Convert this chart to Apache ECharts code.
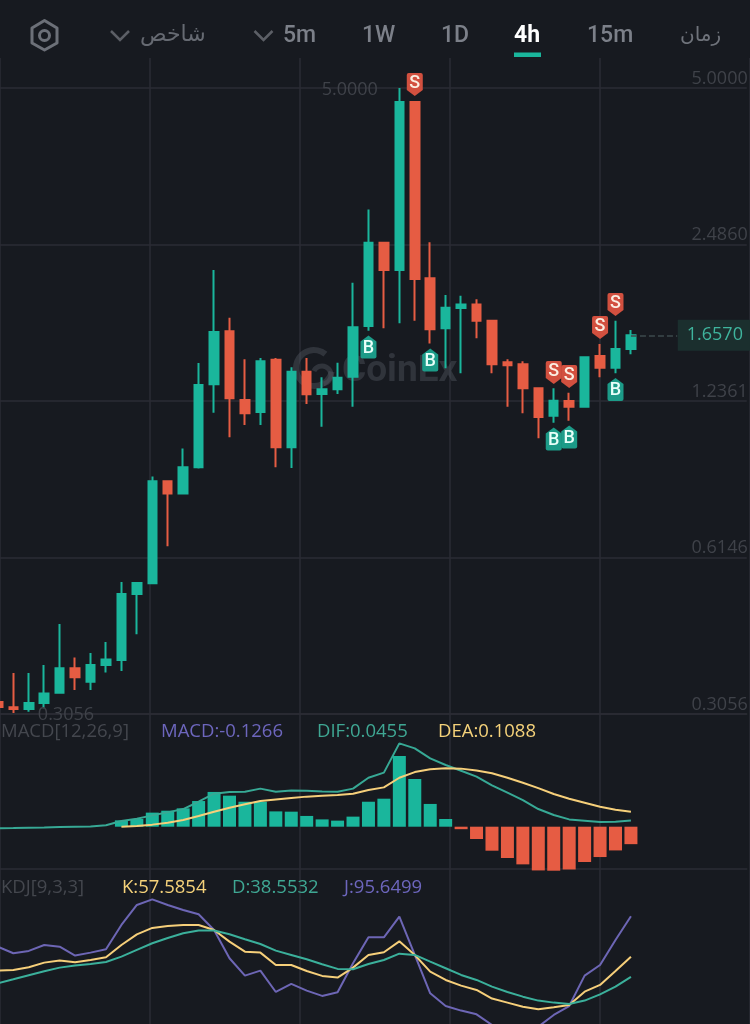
<!DOCTYPE html>
<html>
<head>
<meta charset="utf-8">
<style>html,body{margin:0;padding:0;background:#171a20}#c{width:750px;height:1024px}</style>
<script src="https://cdn.jsdelivr.net/npm/echarts@6/dist/echarts.min.js"></script>
</head>
<body>
<div id="c"></div>
<script>
// ---- data ----
const opens  = [.3224,.3150,.3125,.3210,.3361,.3748,.3530,.3803,.3889,.5222,.5480,.8640,.8179,.9198,1.3318,1.6874,1.2416,1.1769,1.4864,1.0056,1.4087,1.2754,1.3024,1.3779,1.7278,2.5049,2.2185,4.697,2.1379,1.7103,1.8721,1.9023,1.7692,1.4690,1.4563,1.3082,1.1576,1.2361,1.2051,1.5111,1.4343,1.5591];
const closes = [.3153,.3125,.3210,.3350,.3748,.3600,.3803,.3896,.5222,.5485,.8640,.8179,.9198,1.3276,1.6821,1.2511,1.1701,1.4759,1.0056,1.4087,1.2737,1.3024,1.3716,1.7177,2.5049,2.2185,4.697,2.1312,1.7027,1.8747,1.9023,1.7692,1.4563,1.4500,1.3082,1.1509,1.2377,1.2051,1.5022,1.4343,1.5591,1.6570];
const lows   = [.3139,.3070,.3087,.3137,.3361,.3401,.3401,.3680,.3703,.4362,.5480,.6464,.8179,.9144,1.1732,1.0512,1.1107,1.1107,.9197,.9163,1.2197,1.1024,1.2754,1.2051,1.6919,1.7103,1.7485,1.7692,1.5988,1.4302,1.3987,1.6354,1.3987,1.2051,1.1701,1.0464,1.1220,1.1320,1.2051,1.3742,1.3987,1.5229];
const highs  = [.3224,.3670,.3670,.3803,.4567,.3935,.4013,.4215,.5509,.5509,.8824,.8640,.9997,1.4647,2.2185,1.7934,1.4890,1.4977,1.4977,1.4370,1.4977,1.3742,1.4668,2.0963,2.9065,2.5049,5.0000,4.718,2.5116,1.9842,1.9778,1.9463,1.7692,1.4890,1.4759,1.3082,1.3082,1.2828,1.5022,1.5945,1.7692,1.6972];
const slotNames = ['0','1','2','3','4','5','6','7','8','9','10','11','12','13','14','15','16','17','18','19','20','21','22','23','24','25','26','27','28','29','30','31','32','33','34','35','36','37','38','39','40','41','42','43','44','45','46','47','48'];
const priceTicks = ['0.3056','0.6146','1.2361','2.4860','5.0000'];
const minPrice = 0.3056, maxPrice = 5.0, lastPrice = 1.6570;
const sellSlots  = [27,36,37,39,40];
const sellPrices = [5.079,1.4039,1.3790,1.7162,1.9017];
const buySlots   = [24,28,36,37,40];
const buyPrices  = [1.5731,1.4844,1.0431,1.0524,1.3012];
const macdSlots  = [8,9,10,11,12,13,14,15,16,17,18,19,20,21,22,23,24,25,26,27,28,29,30,31,32,33,34,35,36,37,38,39,40,41];
const macdBars   = [.046,.056,.102,.116,.133,.186,.252,.225,.181,.181,.111,.109,.078,.053,.044,.073,.181,.203,.513,.346,.165,.056,-.018,-.089,-.174,-.227,-.273,-.317,-.319,-.310,-.256,-.220,-.172,-.1266];
const dif = [-.012,-.010,-.007,-.005,-.002,0,.002,.010,.041,.058,.082,.104,.128,.181,.239,.251,.254,.276,.254,.263,.261,.256,.254,.276,.355,.392,.604,.568,.495,.447,.406,.363,.300,.247,.193,.128,.085,.053,.044,.034,.036,.0455];
const dea = [null,null,null,null,null,null,null,null,0,.005,.015,.029,.048,.077,.109,.138,.162,.186,.198,.208,.218,.225,.230,.239,.266,.285,.355,.396,.416,.423,.421,.408,.387,.355,.319,.280,.237,.203,.174,.145,.123,.1088];
const kLine = [44.5,45.1,47.6,52.0,53.9,52.3,54.5,57.0,68.6,78.6,84.6,86.4,87.4,87.4,82.7,71.7,62.3,61.4,49.8,49.8,44.1,39.5,37.9,47.3,59.2,61.7,72.0,59.2,43.5,35.7,30.4,26.3,18.2,14.4,10.6,8.1,10.0,12.2,24.7,31.0,44.1,57.5854];
const dLine = [32.6,36.3,40.1,43.8,47.3,49.2,50.7,52.6,57.6,63.9,70.2,75.2,79.6,82.1,82.1,78.6,73.9,69.5,63.3,59.2,55.1,50.4,46.1,45.7,50.7,54.5,60.4,59.2,52.9,46.7,40.4,35.7,29.4,24.4,20.0,16.3,14.4,13.1,16.3,22.2,29.4,38.5532];
const jLine = [67.0,60.8,63.0,68.6,67.0,58.6,61.4,64.5,87.4,106.2,111.5,106.2,101.5,97.4,82.7,56.1,39.8,44.5,24.4,32.0,25.7,20.7,24.1,51.4,75.8,75.8,95.2,59.2,23.2,11.2,6.9,3.4,-6.6,-14.4,-17.6,-8.2,2.8,11.2,39.8,49.8,73.3,95.6499];
const tabs = ['5m','1W','1D','4h','15m','زمان','شاخص'];
// ---- styles ----
const BG='#171a20', GRID='#2b2d34', UP='#1ab69c', DOWN='#e65c43', TICK='#3f4249';
const UI='Roboto, "DejaVu Sans", sans-serif';
const NUM='"Open Sans", Roboto, sans-serif';
// the price pane is a logarithmic scale with one step per tick label
const step = p => Math.log(p/minPrice)/Math.log(maxPrice/minPrice)*(priceTicks.length-1);
const candleData = opens.map((o,i)=>[step(o),step(closes[i]),step(lows[i]),step(highs[i])]);
const SELL='path://M2 0H14Q16 0 16 2V17L8 23L0 17V2Q0 0 2 0Z';
const BUY='path://M8 0L16 6V21Q16 23 14 23H2Q0 23 0 21V6Z';
const sign=(name,slot,price,sym,col,txt,dy)=>({name,coord:[slot,step(price)],symbol:sym,symbolSize:[16,23],
  itemStyle:{color:col},label:{show:true,position:'inside',offset:[0,dy],formatter:'{b}',color:txt,fontFamily:UI,fontSize:18,fontWeight:500}});
const note=(slot,price,pos,dist,text,dy)=>({name:text,coord:[slot,step(price)],symbol:'circle',symbolSize:1,itemStyle:{color:'transparent'},
  label:{show:true,position:pos,distance:dist,offset:[0,dy],formatter:'{b}',color:TICK,fontFamily:NUM,fontSize:18}});
const points=[
  ...sellSlots.map((s,i)=>sign('S',s,sellPrices[i],SELL,'#d2503f','#fbeee2',-1)),
  ...buySlots.map((s,i)=>sign('B',s,buyPrices[i],BUY,'#1c9b88','#e8fff9',1)),
  note(26,maxPrice,'left',21,priceTicks[4],2),
  note(1,minPrice,'right',24,priceTicks[0],1),
  {name:lastPrice.toFixed(4),coord:[44,step(lastPrice)],symbol:'circle',symbolSize:1,itemStyle:{color:'transparent'},
   label:{show:true,position:'right',distance:0,formatter:'{b}',color:'#3fb49d',fontFamily:NUM,fontSize:18,backgroundColor:'#1b2f2e',padding:[6,9,6,9],lineHeight:19}}
];
const catAxis=(g,extra)=>Object.assign({type:'category',gridIndex:g,data:slotNames,boundaryGap:true,
  axisTick:{show:false},axisLabel:{show:false},splitLine:{show:false},axisLine:{show:false}},extra||{});
const lineS=(data,color,x,y)=>({type:'line',xAxisIndex:x,yAxisIndex:y,data,symbol:'none',smooth:false,lineStyle:{color,width:2},silent:true,connectNulls:false,z:3});
const txt=(x,y,text,fill,size,weight,align,font)=>({type:'text',z:5,silent:true,style:{x,y,text,fill,fontFamily:font||UI,fontSize:size,fontWeight:weight||400,align:align||'left',verticalAlign:'middle'}});

const chart=echarts.init(document.getElementById('c'),null,{renderer:'canvas'});
const left=-9.82, width=756.56;
chart.setOption({
  animation:false,
  backgroundColor:BG,
  grid:[
    {left,width,top:58,height:656,outerBoundsMode:'none'},
    {left,width,top:714,height:158,outerBoundsMode:'none'},
    {left,width,top:869,height:155,outerBoundsMode:'none'},
    {left:0,right:0,top:58,bottom:0,outerBoundsMode:'none'}
  ],
  xAxis:[
    catAxis(0,{axisLine:{show:true,onZero:false,lineStyle:{color:GRID,width:1.5}}}),
    catAxis(1),
    catAxis(2,{position:'top',axisLine:{show:true,onZero:false,lineStyle:{color:GRID,width:1.5}}}),
    {type:'value',gridIndex:3,min:0,max:750,interval:150,axisLine:{show:false},axisTick:{show:false},axisLabel:{show:false},
     splitLine:{show:true,lineStyle:{color:GRID,width:1.5}}}
  ],
  yAxis:[
    {type:'value',gridIndex:0,position:'right',min:0,max:4+30/156.5,interval:1,
     axisLine:{show:false},axisTick:{show:false},
     splitLine:{show:true,showMaxLine:false,lineStyle:{color:GRID,width:1.5}},
     axisLabel:{show:true,inside:true,margin:-1,showMaxLabel:false,showMinLabel:true,color:TICK,fontFamily:NUM,fontSize:18,verticalAlign:'bottom',lineHeight:19,
       formatter:v=>priceTicks[v]||''}},
    {type:'value',gridIndex:1,min:-.3284,max:.817,show:false,splitLine:{show:false}},
    {type:'value',gridIndex:2,min:-5.7,max:140,show:false,splitLine:{show:false}},
    {type:'value',gridIndex:3,min:0,max:1,show:false,splitLine:{show:false}}
  ],
  series:[
    {type:'candlestick',xAxisIndex:0,yAxisIndex:0,data:candleData,barWidth:9,silent:true,z:2,
     itemStyle:{color:UP,color0:DOWN,borderColor:UP,borderColor0:DOWN,borderWidth:2},
     markPoint:{silent:true,animation:false,z:6,data:points},
     markLine:{silent:true,animation:false,symbol:'none',label:{show:false},
       lineStyle:{color:'#3d4a4c',type:'dashed',width:1.5},
       data:[[{coord:[41,step(lastPrice)]},{coord:[44,step(lastPrice)]}]]}},
    {type:'bar',xAxisIndex:1,yAxisIndex:1,barWidth:13,silent:true,z:2,
     data:macdSlots.map((s,i)=>({value:[s,macdBars[i]],itemStyle:{color:macdBars[i]>=0?UP:DOWN}}))},
    lineS(dif,'#37a995',1,1),
    lineS(dea,'#f6cf7a',1,1),
    lineS(jLine,'#6d66b5',2,2),
    lineS(kLine,'#f6cf7a',2,2),
    lineS(dLine,'#3bb09b',2,2)
  ],
  graphic:[
    // watermark
    {type:'text',z:1,silent:true,style:{x:342,y:372,text:'CoinEx',fill:'rgba(90,95,105,0.38)',fontFamily:UI,fontSize:37,fontWeight:700,verticalAlign:'middle'}},
    {type:'arc',z:1,silent:true,shape:{cx:314,cy:368,r:18,startAngle:0.2,endAngle:5.4},style:{stroke:'rgba(90,95,105,0.38)',lineWidth:6,fill:null}},
    {type:'arc',z:1,silent:true,shape:{cx:322,cy:375,r:9,startAngle:3.6,endAngle:1.4},style:{stroke:'rgba(90,95,105,0.38)',lineWidth:5,fill:null}},
    // tab bar
    {type:'polygon',z:5,silent:true,shape:{points:[[44.5,20.5],[57,28],[57,43],[44.5,50],[32,43],[32,28]]},style:{stroke:'#6c7078',lineWidth:3,fill:null,lineJoin:'round'}},
    {type:'circle',z:5,silent:true,shape:{cx:44.5,cy:35.5,r:5},style:{stroke:'#6c7078',lineWidth:3,fill:null}},
    {type:'polyline',z:5,silent:true,shape:{points:[[111,31],[120,40],[129,31]]},style:{stroke:'#5c5f66',lineWidth:2.5,fill:null}},
    {type:'polyline',z:5,silent:true,shape:{points:[[254.5,31],[263.5,40],[272.5,31]]},style:{stroke:'#5c5f66',lineWidth:2.5,fill:null}},
    txt(140,35.5,tabs[6],'#666a72',22,400),
    txt(283,36.5,tabs[0],'#7c8089',23,500),
    txt(362,36.5,tabs[1],'#7c8089',23,500),
    txt(441,36.5,tabs[2],'#7c8089',23,500),
    txt(514,36.5,tabs[3],'#ffffff',23,700),
    txt(587,36.5,tabs[4],'#7c8089',23,500),
    txt(680,36,tabs[5],'#6f737b',20,400),
    {type:'rect',z:5,silent:true,shape:{x:514,y:52.5,width:27,height:4.5},style:{fill:UP}},
    // indicator captions
    txt(1,732,'MACD[12,26,9]','#44474e',18.5,400,'left',NUM),
    txt(161,732,'MACD:-0.1266','#6d66bd',18.5,400,'left',NUM),
    txt(317,732,'DIF:0.0455','#3fa793',18.5,400,'left',NUM),
    txt(438,732,'DEA:0.1088','#f5d27a',18.5,400,'left',NUM),
    txt(1,888,'KDJ[9,3,3]','#44474e',18.5,400,'left',NUM),
    txt(122,888,'K:57.5854','#f5d27a',18.5,400,'left',NUM),
    txt(232,888,'D:38.5532','#3fa793',18.5,400,'left',NUM),
    txt(344,888,'J:95.6499','#6d66bd',18.5,400,'left',NUM)
  ]
});
</script>
</body>
</html>
